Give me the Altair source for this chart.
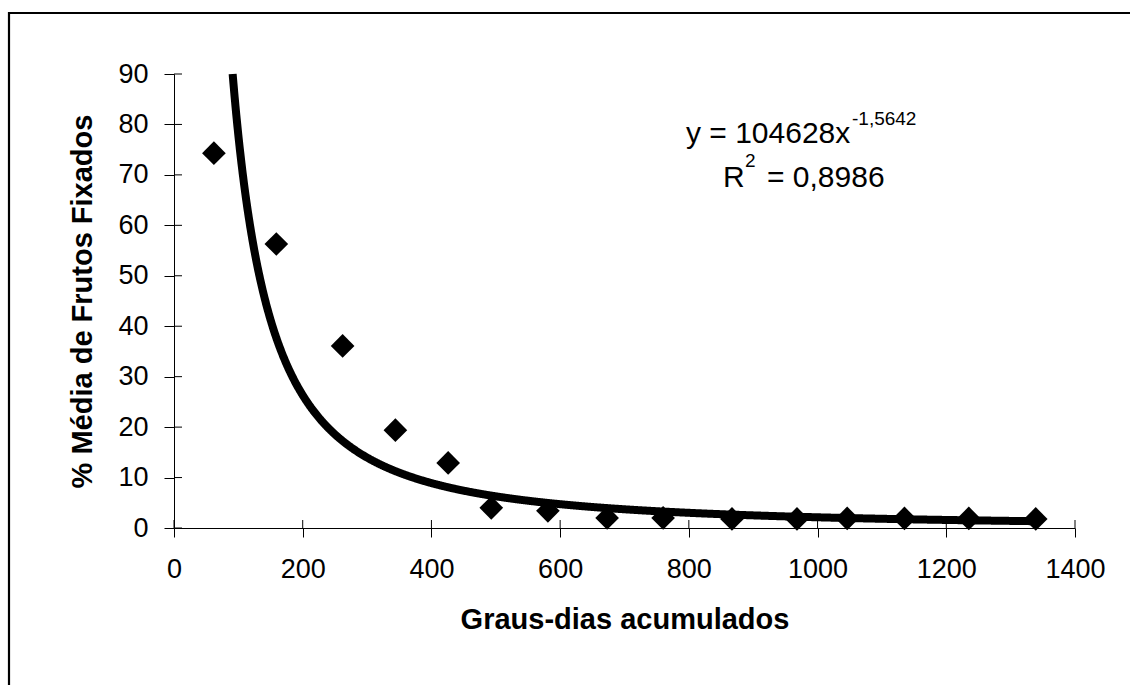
import altair as alt
import pandas as pd

# ---- data ----
graus_dias = [62, 159, 262, 344, 426, 493, 581, 673, 760, 867, 968, 1046, 1135, 1235, 1339]
frutos_pct = [74.3, 56.3, 36.1, 19.4, 12.9, 4.0, 3.4, 2.0, 2.0, 1.8, 1.8, 1.9, 1.9, 1.9, 1.8]

# trend line printed on the chart: y = A * x^B
coef_a = 104628
coef_b = -1.5642
r2_text = "0,8986"

x_ticks = [0, 200, 400, 600, 800, 1000, 1200, 1400]
y_ticks = [0, 10, 20, 30, 40, 50, 60, 70, 80, 90]

x_title = "Graus-dias acumulados"
y_title = "% Média de Frutos Fixados"
eq_main = "y = 104628x"
eq_exp = "-1,5642"
r_main = "R"
r_exp = "2"
r_rest = "= " + r2_text

FONT = "Liberation Sans"
W, H = 901, 454

pts = pd.DataFrame({"gd": graus_dias, "pct": frutos_pct})
xs = alt.Scale(domain=[0, 1400], nice=False, zero=False)
ys = alt.Scale(domain=[0, 90], nice=False)

x_axis = alt.Axis(values=x_ticks, format="d", tickSize=9, tickColor="black", domainColor="black",
                  labelFont=FONT, labelFontSize=27, labelColor="black", labelPadding=19,
                  title=x_title, titleFont=FONT, titleFontSize=29, titleFontWeight="bold",
                  titleColor="black", titlePadding=23, grid=False, labelFlush=False)
y_axis = alt.Axis(values=y_ticks, format="d", tickSize=10, tickColor="black", domainColor="black",
                  labelFont=FONT, labelFontSize=27, labelColor="black", labelPadding=16,
                  title=y_title, titleFont=FONT, titleFontSize=29, titleFontWeight="bold",
                  titleColor="black", titlePadding=20, grid=False, labelFlush=False)

points = alt.Chart(pts).mark_point(shape="diamond", filled=True, color="black",
                                   size=560, opacity=1).encode(
    x=alt.X("gd:Q", scale=xs, axis=x_axis),
    y=alt.Y("pct:Q", scale=ys, axis=y_axis),
)

x_end = graus_dias[-1]
curve = alt.Chart(alt.SequenceGenerator(sequence=alt.SequenceParams(start=0, stop=1.00001, step=0.0005, **{"as": "t"}))).transform_calculate(
    x0=f"pow(90/{coef_a}, 1/({coef_b}))"
).transform_calculate(
    gx=f"datum.x0 + datum.t*({x_end}-datum.x0)"
).transform_calculate(
    py=f"{coef_a}*pow(datum.gx, {coef_b})"
).mark_line(color="black", strokeWidth=8, strokeCap="butt").encode(
    x=alt.X("gx:Q", scale=xs, axis=x_axis),
    y=alt.Y("py:Q", scale=ys, axis=y_axis),
)

# inner halves of the crossing tick marks
ytick_df = pd.DataFrame({"v": y_ticks})
xtick_df = pd.DataFrame({"v": x_ticks})
yticks_in = alt.Chart(ytick_df).mark_rule(color="black", strokeWidth=1).encode(
    x=alt.value(0), x2=alt.value(8),
    y=alt.Y("v:Q", scale=ys, axis=y_axis),
)
xticks_in = alt.Chart(xtick_df).mark_rule(color="black", strokeWidth=1).encode(
    y=alt.value(H - 8), y2=alt.value(H),
    x=alt.X("v:Q", scale=xs, axis=x_axis),
)

def label(txt, px, py, size, weight="normal"):
    return alt.Chart(pd.DataFrame({"t": [txt]})).mark_text(
        font=FONT, fontSize=size, fontWeight=weight, color="black",
        align="left", baseline="alphabetic"
    ).encode(x=alt.value(px), y=alt.value(py), text="t:N")

texts = [
    label(eq_main, 512, 69, 30),
    label(eq_exp, 678, 51, 19),
    label(r_main, 549, 113, 30),
    label(r_exp, 571, 93, 19),
    label(r_rest, 593, 113, 30),
]

# outer frame: only its top and left edges fall inside the page
dummy = pd.DataFrame({"a": [0]})
frame = alt.Chart(dummy).mark_rect(filled=False, stroke="black", strokeWidth=2.2).encode(
    x=alt.value(-165), x2=alt.value(1100), y=alt.value(-61), y2=alt.value(800))

chart = alt.layer(
    points, curve, yticks_in, xticks_in, frame, *texts
).properties(
    width=W, height=H,
    padding={"left": 174, "top": 74, "right": 55, "bottom": 157},
    autosize=alt.AutoSizeParams(type="none"),
    background="white",
).configure_view(stroke=None)

chart.save("out.html", embed_options={"renderer": "svg", "actions": False})
